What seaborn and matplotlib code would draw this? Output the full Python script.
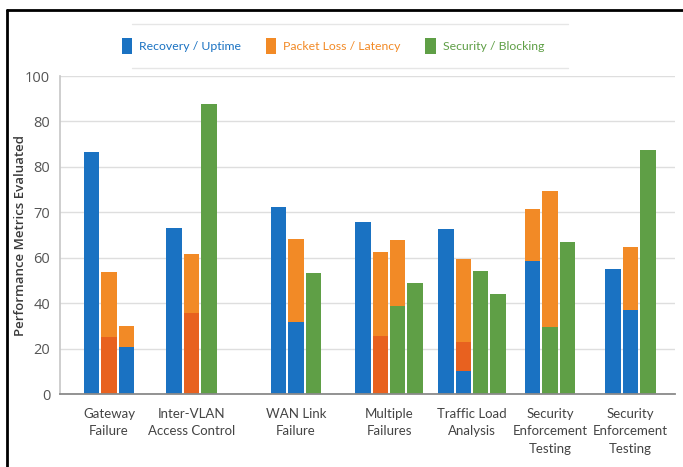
import numpy as np
import pandas as pd
import seaborn as sns
import matplotlib.pyplot as plt
from matplotlib.patches import Patch
from matplotlib.lines import Line2D

# Scenario labels along the x axis
categories = [
    "Gateway\nFailure",
    "Inter-VLAN\nAccess Control",
    "WAN Link\nFailure",
    "Multiple\nFailures",
    "Traffic Load\nAnalysis",
    "Security\nEnforcement\nTesting",
    "Security\nEnforcement\nTesting",
]

series_names = ["Recovery / Uptime", "Packet Loss / Latency", "Security / Blocking"]
series_colors = {
    "Recovery / Uptime": "#1a72c2",
    "Packet Loss / Latency": "#f28a26",
    "Security / Blocking": "#5f9f46",
    "Loss base": "#e8611f",
}

# which scenario each bar slot belongs to
slot_group = [0, 0, 0, 1, 1, 1, 2, 2, 2, 3, 3, 3, 3, 4, 4, 4, 4, 5, 5, 5, 6, 6, 6]

# stacked segments (bottom to top within a slot): slot, series, top value
seg_slot = [0, 1, 1, 2, 2, 3, 4, 4, 5, 6, 7, 7, 8, 9, 10, 10, 11, 11, 12,
            13, 14, 14, 14, 15, 16, 17, 17, 18, 18, 19, 20, 21, 21, 22]
seg_series = [
    "Recovery / Uptime", "Loss base", "Packet Loss / Latency",
    "Recovery / Uptime", "Packet Loss / Latency",
    "Recovery / Uptime", "Loss base", "Packet Loss / Latency", "Security / Blocking",
    "Recovery / Uptime", "Recovery / Uptime", "Packet Loss / Latency", "Security / Blocking",
    "Recovery / Uptime", "Loss base", "Packet Loss / Latency",
    "Security / Blocking", "Packet Loss / Latency", "Security / Blocking",
    "Recovery / Uptime", "Recovery / Uptime", "Loss base", "Packet Loss / Latency",
    "Security / Blocking", "Security / Blocking",
    "Recovery / Uptime", "Packet Loss / Latency", "Security / Blocking", "Packet Loss / Latency",
    "Security / Blocking",
    "Recovery / Uptime", "Recovery / Uptime", "Packet Loss / Latency", "Security / Blocking",
]
seg_top = [76.1, 18.0, 38.5, 14.9, 21.4,
           52.1, 25.6, 43.9, 91.1,
           58.7, 22.5, 48.7, 37.9,
           54.1, 18.2, 44.7, 27.7, 48.5, 34.8,
           51.8, 7.1, 16.4, 42.3, 38.6, 31.4,
           41.9, 58.1, 21.0, 63.8, 47.7,
           39.2, 26.4, 46.3, 76.7]

ytick_labels = ["0", "20", "40", "60", "70", "80", "80", "100"]

# layout of the slots on the x axis
group_center = [0.49, 1.315, 2.36, 3.29, 4.12, 4.90, 5.705]
slot_step = 0.173
bar_w = 0.155

sns.set_theme(style="white")
plt.rcParams["font.family"] = ["Lato", "DejaVu Sans"]
open_sans = ["Open Sans", "DejaVu Sans"]

slot_x = []
for i, g in enumerate(slot_group):
    members = [j for j, gg in enumerate(slot_group) if gg == g]
    k = members.index(i)
    slot_x.append(group_center[g] + (k - (len(members) - 1) / 2) * slot_step)

df = pd.DataFrame({"slot": seg_slot, "series": seg_series, "top": seg_top})
df["x"] = [slot_x[s] for s in df["slot"]]
# depth from the top of its stack: draw the top segment first, then overlay lower ones
df["depth"] = df.groupby("slot").cumcount(ascending=False)

fig = plt.figure(figsize=(6.83, 4.67), dpi=100)
ax = fig.add_axes([60 / 683, 73 / 467, 615 / 683, 318 / 467])

for d in sorted(df["depth"].unique()):
    layer = df[df["depth"] == d]
    ux = np.unique(layer["x"])
    gap = np.diff(ux).min() if len(ux) > 1 else 1.0
    sns.barplot(data=layer, x="x", y="top", hue="series", palette=series_colors,
                native_scale=True, dodge=False, width=bar_w / gap, saturation=1,
                errorbar=None, legend=False, linewidth=0, ax=ax)

ax.set_xlim(0, 6.15)
ax.set_ylim(0, 100)
ax.set_yticks(np.linspace(0, 100, 8))
ax.set_yticklabels(ytick_labels, color="#555555", fontsize=10.5, family=open_sans)
ax.set_xticks(group_center)
ax.set_xticklabels(categories, fontsize=9.5, color="#444444", linespacing=1.55)
ax.tick_params(axis="x", length=0, pad=10)
ax.tick_params(axis="y", length=3, color="#bbbbbb", pad=4)
ax.set_xlabel("")
ax.set_ylabel("Performance Metrics Evaluated", fontsize=9.5, color="#3a3a3a",
              family=open_sans, fontweight="semibold")
ax.yaxis.set_label_coords(-0.054, 0.5)
ax.yaxis.grid(True, color="#dedede", linewidth=1)
ax.set_axisbelow(True)
for s in ["top", "right"]:
    ax.spines[s].set_visible(False)
ax.spines["left"].set_color("#c8c8c8")
ax.spines["bottom"].set_color("#8a8a8a")
ax.spines["bottom"].set_linewidth(1.3)

handles = [Patch(facecolor=series_colors[n], edgecolor="none") for n in series_names]
fig.legend(handles, series_names, loc="center", bbox_to_anchor=(333 / 683, 1 - 46 / 467),
           ncol=3, frameon=False, handlelength=0.85, handleheight=1.6,
           handletextpad=0.6, columnspacing=2.0,
           labelcolor=[series_colors[n] for n in series_names],
           prop={"size": 8.8})

# thin rules above and below the legend, and the black frame
for yy in [24, 68]:
    fig.add_artist(Line2D([132 / 683, 568 / 683], [1 - yy / 467] * 2, color="#e6e6e6", lw=1))
fig.add_artist(Line2D([7 / 683, 7 / 683], [0, 1 - 10 / 467], color="black", lw=2))
fig.add_artist(Line2D([7 / 683, 1], [1 - 10 / 467] * 2, color="black", lw=2))

fig.savefig("out.png", dpi=100)
